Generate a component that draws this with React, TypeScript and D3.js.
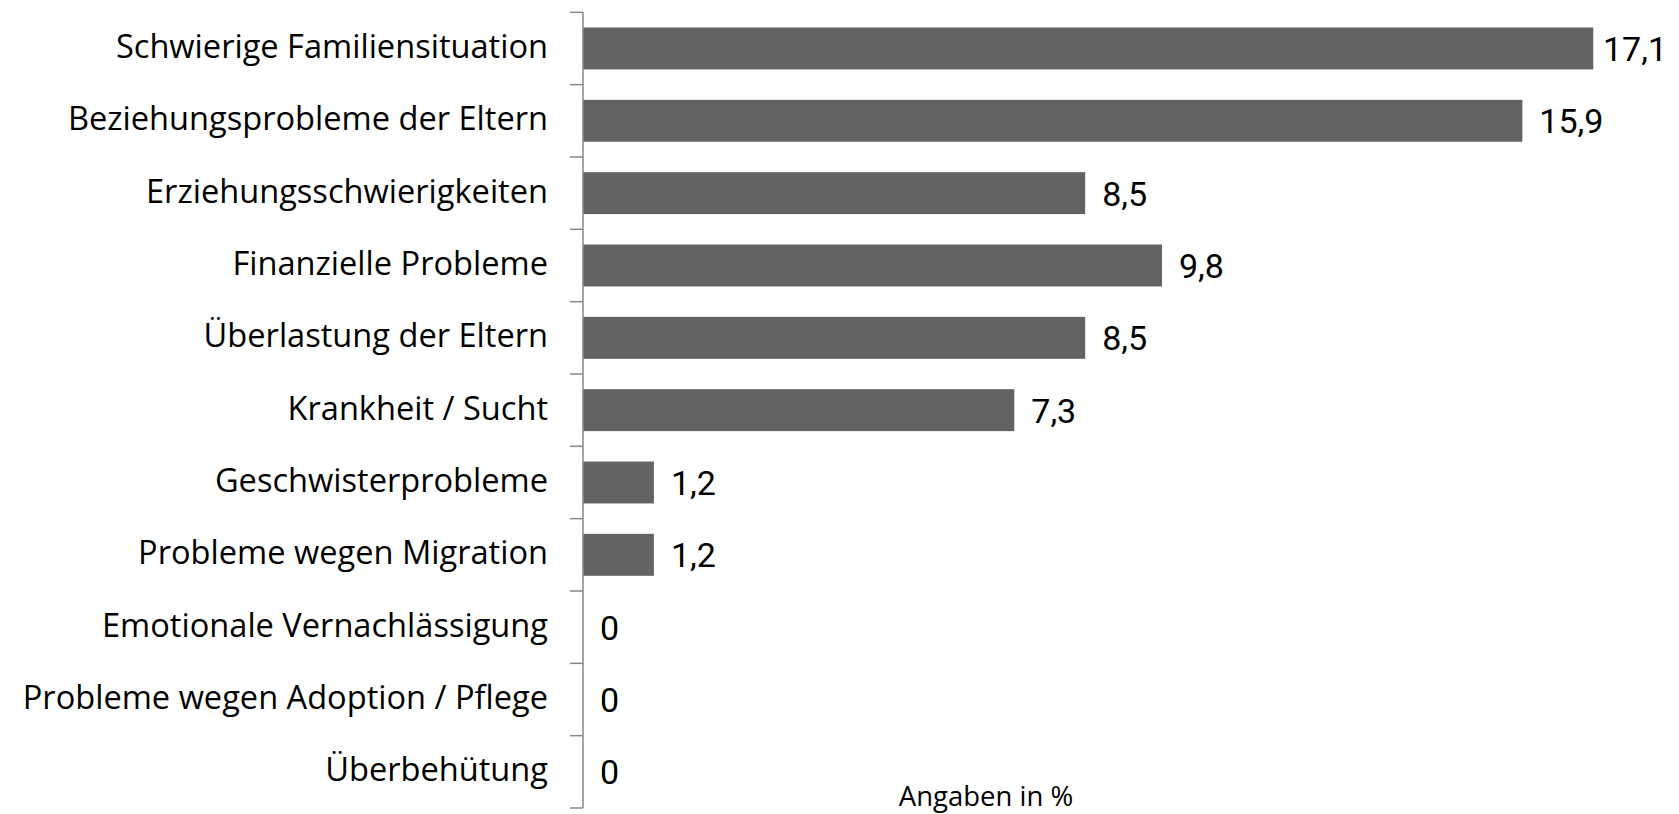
import React from "react";
import * as d3 from "d3";

const categories = [
  "Schwierige Familiensituation",
  "Beziehungsprobleme der Eltern",
  "Erziehungsschwierigkeiten",
  "Finanzielle Probleme",
  "Überlastung der Eltern",
  "Krankheit / Sucht",
  "Geschwisterprobleme",
  "Probleme wegen Migration",
  "Emotionale Vernachlässigung",
  "Probleme wegen Adoption / Pflege",
  "Überbehütung",
];
const values = [17.1, 15.9, 8.5, 9.8, 8.5, 7.3, 1.2, 1.2, 0, 0, 0];
const valueLabels = ["17,1", "15,9", "8,5", "9,8", "8,5", "7,3", "1,2", "1,2", "0", "0", "0"];
const axisNote = "Angaben in %";

const W = 1679;
const H = 814;
const axisX = 583;
const top = 12.3;
const bottom = 808;

export default function App() {
  const y = d3.scaleBand<string>().domain(categories).range([top, bottom]).padding(0);
  const x = d3.scaleLinear().domain([0, 18]).range([axisX, axisX + 18 * 59.08]);
  const bw = y.bandwidth();
  const barH = bw * 0.58;
  const tickYs = [...categories.map((c) => y(c) as number), bottom];

  return (
    <svg
      width={W}
      height={H}
      style={{ position: "absolute", left: 0, top: 0, background: "#fff" }}
    >
      {categories.map((c, i) => {
        const cy = (y(c) as number) + bw / 2;
        return (
          <g key={c}>
            {values[i] > 0 && (
              <rect
                x={x(0)}
                y={cy - barH / 2}
                width={x(values[i]) - x(0)}
                height={barH}
                fill="#636363"
              />
            )}
            <text
              x={548}
              y={cy + 9.5}
              textAnchor="end"
              fontFamily="'Open Sans', sans-serif"
              fontSize={32.6}
              fontWeight={500}
              fill="#000"
            >
              {c}
            </text>
            <text
              x={Math.min(x(values[i]) + 17, W - 76)}
              y={cy + 12.5}
              fontFamily="Roboto, sans-serif"
              fontSize={34}
              fill="#000"
            >
              {valueLabels[i]}
            </text>
          </g>
        );
      })}
      <line x1={axisX} x2={axisX} y1={top} y2={bottom} stroke="#888" strokeWidth={1.5} />
      {tickYs.map((ty, i) => (
        <line key={i} x1={axisX - 13} x2={axisX} y1={ty} y2={ty} stroke="#888" strokeWidth={1.5} />
      ))}
      <text
        x={986}
        y={806}
        textAnchor="middle"
        fontFamily="'Open Sans', sans-serif"
        fontSize={27.5}
        fontWeight={500}
        fill="#000"
      >
        {axisNote}
      </text>
    </svg>
  );
}
